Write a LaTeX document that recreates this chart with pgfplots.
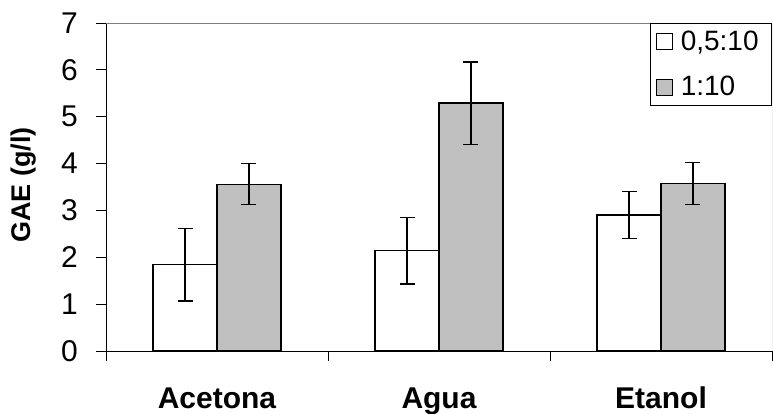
\documentclass[border=0pt]{standalone}
\usepackage{fontspec}
\setmainfont{Liberation Sans}
\usepackage{pgfplots}
\pgfplotsset{compat=1.18}
\definecolor{barg}{HTML}{C0C0C0}
\definecolor{frameg}{HTML}{808080}
\begin{document}
\begin{tikzpicture}
\useasboundingbox (0,0) rectangle (773bp,414bp);
\begin{axis}[
  at={(106bp,63bp)}, anchor=south west,
  scale only axis, width=666bp, height=328bp,
  xmin=0, xmax=3, ymin=0, ymax=7,
  axis lines=left, axis line style={-, black, line width=1bp},
  ytick={0,1,2,3,4,5,6,7},
  xtick={0,1,2,3}, xticklabels={},
  tick align=outside, major tick length=10bp,
  tick style={black, line width=1bp},
  /pgf/number format/assume math mode=true,
  yticklabel style={font=\fontsize{30bp}{32bp}\selectfont, inner sep=0pt, anchor=east, xshift=-18bp},
  extra x ticks={0.5,1.5,2.5},
  extra x tick labels={Acetona,Agua,Etanol},
  extra x tick style={major tick length=0pt, tick style={draw=none},
    xticklabel style={font=\fontsize{30bp}{32bp}\selectfont\bfseries, anchor=base, inner sep=0pt, yshift=-57bp}},
  ylabel={GAE (g/l)},
  ylabel style={font=\fontsize{27bp}{29bp}\selectfont\bfseries, at={(axis description cs:-0.124,0.506)}, anchor=center},
  ybar=0pt, bar width=0.288,
  legend style={at={(1,1)}, anchor=north east, draw=black, line width=0.8bp,
    font=\fontsize{28bp}{30bp}\selectfont, inner xsep=5bp, inner ysep=8bp,
    row sep=24bp, legend cell align=left,
    nodes={inner xsep=8bp, inner ysep=0bp}},
  legend image code/.code={\draw[#1, line width=0.9bp] (0bp,-8bp) rectangle (16bp,8bp);},
  error bars/error bar style={line width=1.3bp, black},
  error bars/error mark options={rotate=90, mark size=7.5bp, line width=1.3bp, black},
]
\addplot[draw=black, fill=white, line width=1.3bp,
  error bars/.cd, y dir=both, y explicit]
  coordinates {(0.5,1.84) +- (0,0.77) (1.5,2.14) +- (0,0.71) (2.5,2.90) +- (0,0.50)};
\addplot[draw=black, fill=barg, line width=1.3bp,
  error bars/.cd, y dir=both, y explicit]
  coordinates {(0.5,3.56) +- (0,0.44) (1.5,5.29) +- (0,0.88) (2.5,3.58) +- (0,0.45)};
\legend{{0,5:10}, {1:10}}
\draw[frameg, line width=1bp] (rel axis cs:0,1) -- (rel axis cs:1,1) -- (rel axis cs:1,0);
\end{axis}
\end{tikzpicture}
\end{document}
